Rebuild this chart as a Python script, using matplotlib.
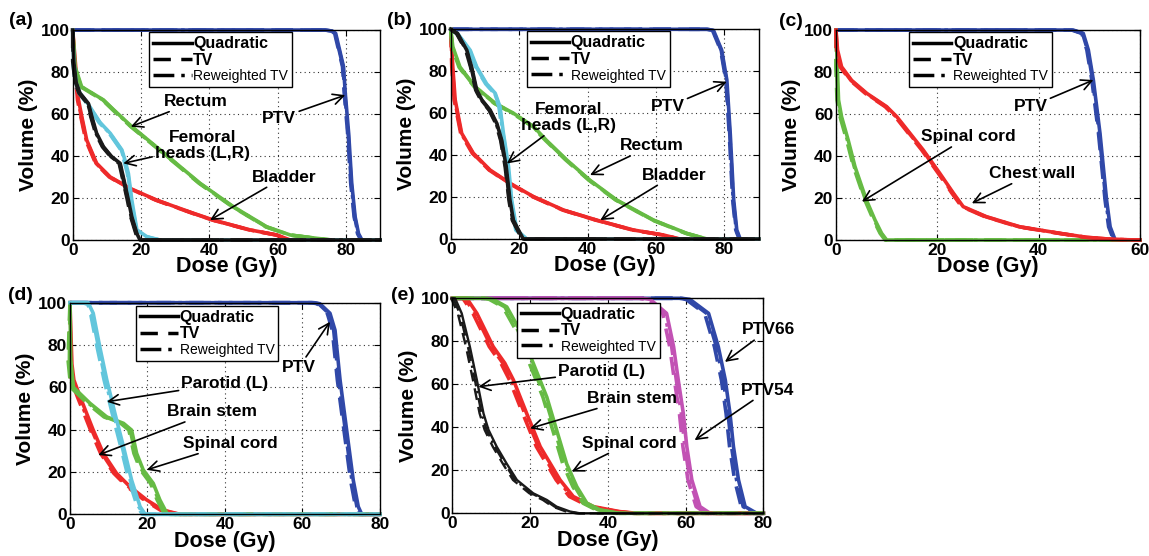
import matplotlib
matplotlib.use('Agg')
import matplotlib.pyplot as plt
from matplotlib.lines import Line2D

plt.rcParams['font.family'] = ['Liberation Sans', 'DejaVu Sans']
plt.rcParams['font.weight'] = 'bold'

blue = '#3048a8'
green = '#66bb44'
red = '#ee2a2a'
cyan = '#62c6dc'
black = '#1a1a1a'
magenta = '#c252b4'

methods = ['Quadratic', 'TV', 'Reweighted TV']

# (a) prostate case
a_ptv_dose = [0, 74, 76, 77, 79.3, 79.8, 80.8, 81.7, 82.7, 83.7, 84.7, 90]
a_ptv_vol = [100, 100, 99.5, 98.4, 82.5, 70, 50.8, 27, 11, 3, 0, 0]
a_rectum_dose = [0, 0.7, 2.6, 9, 12, 17.3, 25.6, 37.3, 47, 56.8, 63.7, 71.5, 76, 90]
a_rectum_vol = [100, 82.5, 73, 66.7, 62, 54, 42.9, 27, 15.9, 6.3, 2.4, 0.8, 0, 0]
a_bladder_dose = [0, 0.5, 1, 1.7, 2.5, 4.1, 7, 11, 16.8, 24.6, 35.4, 41.2, 52, 59.8, 63.7, 90]
a_bladder_vol = [100, 90, 80, 66.7, 60, 47.6, 36.5, 30, 24.6, 19, 12.7, 9.5, 4.8, 2.4, 0, 0]
a_femL_dose = [0, 0.3, 1, 2.1, 4.6, 5.6, 7, 9, 11.4, 13.9, 14.8, 16.3, 17.3, 18.8, 19.7, 90]
a_femL_vol = [100, 85, 75, 70, 65, 58.7, 50.8, 44.4, 39.7, 36.5, 30, 19, 11, 3, 0, 0]
a_femR_dose = [0, 0.3, 1, 2.1, 4, 5.6, 8, 11, 14.4, 15.3, 16.3, 17.3, 18.8, 21.7, 25.6, 90]
a_femR_vol = [100, 85, 75, 70, 66, 62, 56, 50.8, 42.9, 38, 31.7, 19, 4.8, 1.6, 0, 0]

# (b) prostate case 2
b_ptv_dose = [0, 75, 76.8, 79.2, 80.7, 81.7, 82.7, 83.6, 84.6, 90]
b_ptv_vol = [100, 100, 99.5, 90, 75.8, 50, 18.6, 4.3, 0, 0]
b_rectum_dose = [0, 0.6, 2.7, 7.1, 13, 18.3, 24.2, 28, 33.9, 40.7, 48.5, 59.3, 69, 74.9, 90]
b_rectum_vol = [100, 91.7, 82, 72.7, 64.7, 60, 53.6, 47, 37.7, 28, 18.6, 9, 2.7, 0, 0]
b_bladder_dose = [0, 0.6, 1.3, 3.2, 6.6, 11.5, 17.3, 24.2, 33, 42.7, 53.4, 62.2, 67, 90]
b_bladder_vol = [100, 82, 66.3, 50.4, 40.9, 32.9, 26.6, 20.2, 13.8, 9, 4.3, 1.9, 0, 0]
b_femL_dose = [0, 2, 4.7, 6.1, 7.6, 9.1, 11.5, 13.5, 14.9, 16.2, 17.3, 18.3, 20.3, 21.2, 90]
b_femL_vol = [100, 98, 90, 82, 71, 66.3, 61.5, 55, 47, 34.5, 18.6, 9, 2.7, 0, 0]
b_femR_dose = [0, 2, 5.7, 7.6, 10.5, 13, 14.4, 15.4, 16.9, 17.8, 19.3, 22.2, 90]
b_femR_vol = [100, 98, 90, 82, 74, 69.5, 63, 50.4, 34.5, 18.6, 4.3, 0, 0]

# (c) chest wall case
c_ptv_dose = [0, 46.8, 48.8, 49.8, 50.8, 52.1, 53.4, 54.1, 55.1, 60]
c_ptv_vol = [100, 100, 98.4, 90.5, 76, 50.8, 19, 6.3, 0, 0]
c_chest_dose = [0, 0.3, 1.1, 3.1, 6.1, 10, 12, 14.6, 17.2, 20.5, 23.2, 25.1, 29.7, 36.3, 44.2, 49.5, 54.7, 60]
c_chest_vol = [100, 90.5, 82.5, 76, 69.8, 63.5, 58.7, 50.8, 42.9, 31.7, 22.2, 15.9, 11.1, 6.3, 3.2, 1.3, 0.3, 0]
c_cord_dose = [0, 0.26, 0.5, 1.1, 2.4, 3.75, 6, 7.7, 9, 10, 60]
c_cord_vol = [100, 82.5, 66.7, 58.7, 47.6, 34.9, 19, 9.5, 3.2, 0, 0]

# (d) head and neck case
d_ptv_dose = [0, 63, 64.5, 67.1, 68.4, 69.7, 71.4, 73.1, 74.4, 75.3, 80]
d_ptv_vol = [100, 100, 99.5, 95, 87, 63.5, 39.8, 16.2, 3.6, 0, 0]
d_parotid_dose = [0, 4.7, 6, 7.7, 9.5, 11.6, 13.8, 15.9, 18.1, 19.4, 80]
d_parotid_vol = [100, 100, 95, 79, 63.5, 47.7, 32, 16.2, 3.6, 0, 0]
d_cord_dose = [0, 0.2, 0.9, 2.6, 5.2, 9.5, 13.8, 15.9, 17.2, 18.9, 21.5, 23.2, 25, 26, 80]
d_cord_vol = [100, 73, 60, 57, 52.4, 46, 43, 39.8, 28.8, 21, 14.6, 6.8, 0.5, 0, 0]
d_brain_dose = [0, 0.5, 1, 2.6, 4.3, 6, 8.6, 12, 15.5, 19.8, 24, 28.4, 80]
d_brain_vol = [100, 71, 63.5, 55.6, 47.7, 39.8, 28.8, 19.4, 13, 6.8, 2, 0, 0]

# (e) head and neck case 2
e_ptv66_dose = [0, 59, 61.1, 65.9, 68.4, 70.2, 71.4, 72.3, 73.6, 75.3, 78.3, 80]
e_ptv66_vol = [100, 100, 99.5, 93, 77.5, 62, 46.5, 31, 15.5, 3.1, 0, 0]
e_ptv54_dose = [0, 49, 50.9, 55.1, 56.9, 58.1, 59.4, 60.3, 61.6, 63.7, 66.3, 80]
e_ptv54_vol = [100, 100, 99.5, 93, 77.5, 62, 46.5, 31, 15.5, 3.1, 0, 0]
e_cord_dose = [0, 9, 10.5, 14, 17.4, 20.8, 24.3, 26.8, 29.4, 32, 34.6, 38, 43, 80]
e_cord_vol = [100, 100, 99.5, 96, 85, 69.8, 54, 38.8, 23, 12.4, 4.7, 1.6, 0, 0]
e_brain_dose = [0, 3.7, 6.3, 10.5, 13.5, 15.7, 19.1, 22.6, 27.7, 31.1, 36.3, 43, 47.4, 80]
e_brain_vol = [100, 100, 93, 77.5, 69.8, 62, 46.5, 31, 15.5, 7.8, 3.1, 0.8, 0, 0]
e_parotid_dose = [0, 0.7, 2.4, 4.5, 6.3, 8, 9.3, 11.4, 14, 16.6, 20.8, 24.3, 26.8, 30.3, 32.8, 80]
e_parotid_vol = [100, 100, 93, 77.5, 62, 46.5, 38.8, 31, 23, 15.5, 9.3, 6.2, 3.1, 0.8, 0, 0]

# dose offset (Gy) of TV / reweighted TV curves vs quadratic, per panel
tv_offset = [-0.3, -0.3, -0.3, -0.7, -1.0]
rtv_offset = [-0.15, -0.15, -0.15, -0.35, -0.5]

panels = [
    ('(a)', [0.0633, 0.5683, 0.2675, 0.3777], 90, [0, 20, 40, 60, 80],
     [(a_ptv_dose, a_ptv_vol, blue), (a_bladder_dose, a_bladder_vol, red),
      (a_rectum_dose, a_rectum_vol, green), (a_femR_dose, a_femR_vol, cyan),
      (a_femL_dose, a_femL_vol, black)],
     [('Rectum', (36, 66), (17, 54)), ('Femoral\nheads (L,R)', (38, 45), (14.8, 36.5)),
      ('Bladder', (62, 30), (40.2, 9.5)), ('PTV', (60.5, 58), (79.8, 69))],
     (0.249, 0.99)),
    ('(b)', [0.3923, 0.5701, 0.2680, 0.3772], 90, [0, 20, 40, 60, 80],
     [(b_ptv_dose, b_ptv_vol, blue), (b_bladder_dose, b_bladder_vol, red),
      (b_rectum_dose, b_rectum_vol, green), (b_femR_dose, b_femR_vol, cyan),
      (b_femL_dose, b_femL_vol, black)],
     [('Femoral\nheads (L,R)', (34.4, 58), (16.4, 36)), ('Rectum', (58.8, 44.5), (40.7, 30.5)),
      ('Bladder', (65.3, 30.5), (43.7, 9)), ('PTV', (63.4, 63), (80.7, 75))],
     (0.247, 0.99)),
    ('(c)', [0.7276, 0.5683, 0.2646, 0.3777], 60, [0, 20, 40, 60],
     [(c_ptv_dose, c_ptv_vol, blue), (c_cord_dose, c_cord_vol, green),
      (c_chest_dose, c_chest_vol, red)],
     [('Spinal cord', (26.1, 49.2), (5.1, 18.3)), ('Chest wall', (38.8, 31.7), (26.8, 17.5)),
      ('PTV', (38.4, 63.5), (50.8, 76.2))],
     (0.240, 0.99)),
    ('(d)', [0.0609, 0.0750, 0.2698, 0.3806], 80, [0, 20, 40, 60, 80],
     [(d_ptv_dose, d_ptv_vol, blue), (d_brain_dose, d_brain_vol, red),
      (d_cord_dose, d_cord_vol, green), (d_parotid_dose, d_parotid_vol, cyan)],
     [('PTV', (59.1, 69.5), (67.1, 91)), ('Parotid (L)', (40, 61.9), (9.5, 53.2)),
      ('Brain stem', (36.6, 48.5), (7.3, 28)), ('Spinal cord', (41.5, 33.5), (19.8, 21))],
     (0.212, 0.985)),
    ('(e)', [0.3937, 0.0768, 0.2707, 0.3867], 80, [0, 20, 40, 60, 80],
     [(e_ptv66_dose, e_ptv66_vol, blue), (e_ptv54_dose, e_ptv54_vol, magenta),
      (e_brain_dose, e_brain_vol, red), (e_cord_dose, e_cord_vol, green),
      (e_parotid_dose, e_parotid_vol, black)],
     [('Parotid (L)', (38.4, 65.9), (6.7, 58.9)), ('Brain stem', (46.1, 53.5), (20, 39.5)),
      ('Spinal cord', (45.5, 32.6), (30.7, 19.4)), ('PTV66', (81.2, 85.3), (70.1, 70.4)),
      ('PTV54', (81.2, 57.3), (62.3, 34))],
     (0.207, 0.98)),
]

letter_pos = [(0.018, 0.964), (0.348, 0.964), (0.688, 0.962), (0.018, 0.469), (0.351, 0.469)]

tv_style = (0, (5, 3))
rtv_style = (0, (6, 2, 1, 2))

fig = plt.figure(figsize=(11.49, 5.56), dpi=100)

for i, (letter, pos, xmax, xticks, curves, notes, leg_xy) in enumerate(panels):
    ax = fig.add_axes(pos)
    for dose, vol, col in curves:
        lw = 1.7 if (col == black and letter == '(e)') else 2.6
        ax.plot(dose, vol, color=col, lw=lw, ls='-', clip_on=False, zorder=3)
        ax.plot([d + tv_offset[i] if 0 < d < xmax else d for d in dose], vol,
                color=col, lw=lw, ls=tv_style, clip_on=False, zorder=3)
        ax.plot([d + rtv_offset[i] if 0 < d < xmax else d for d in dose], vol,
                color=col, lw=lw, ls=rtv_style, clip_on=False, zorder=3)
    ax.set_xlim(0, xmax)
    ax.set_ylim(0, 100)
    ax.set_xticks(xticks)
    ax.set_yticks([0, 20, 40, 60, 80, 100])
    ax.tick_params(direction='in', top=True, right=True, labelsize=12.5, pad=2, length=4)
    ax.grid(True, linestyle=(0, (1, 3)), color='#333333', lw=0.8)
    ax.set_axisbelow(True)
    ax.set_xlabel('Dose (Gy)', fontsize=15.5, fontweight='bold', labelpad=-1)
    ax.set_ylabel('Volume (%)', fontsize=15, fontweight='bold', labelpad=2)
    for s in ax.spines.values():
        s.set_linewidth(1.0)
        s.set_zorder(4)

    for txt, xy_text, xy_tip in notes:
        ax.annotate(txt, xy=xy_tip, xytext=xy_text, ha='center', va='center',
                    fontsize=12.5, fontweight='bold', annotation_clip=False,
                    linespacing=1.1,
                    arrowprops=dict(arrowstyle='->,head_length=0.6,head_width=0.3',
                                    color='black', lw=1.2, shrinkA=0, shrinkB=0),
                    zorder=6)

    handles = [Line2D([], [], color='black', lw=2.5, ls='-'),
               Line2D([], [], color='black', lw=2.5, ls=tv_style),
               Line2D([], [], color='black', lw=2.5, ls=rtv_style)]
    leg = ax.legend(handles, methods, loc='upper left', bbox_to_anchor=leg_xy,
                    fontsize=11.5, handlelength=2.4, handletextpad=0.1,
                    labelspacing=0.1, borderpad=0.25, borderaxespad=0,
                    fancybox=False, framealpha=1, edgecolor='black')
    leg.get_frame().set_linewidth(1.0)
    leg.set_zorder(7)
    leg.get_texts()[2].set_fontweight('normal')
    leg.get_texts()[2].set_fontsize(10)

    fig.text(letter_pos[i][0], letter_pos[i][1], letter, fontsize=14,
             fontweight='bold', ha='center', va='center')

fig.savefig('out.png', dpi=100)
